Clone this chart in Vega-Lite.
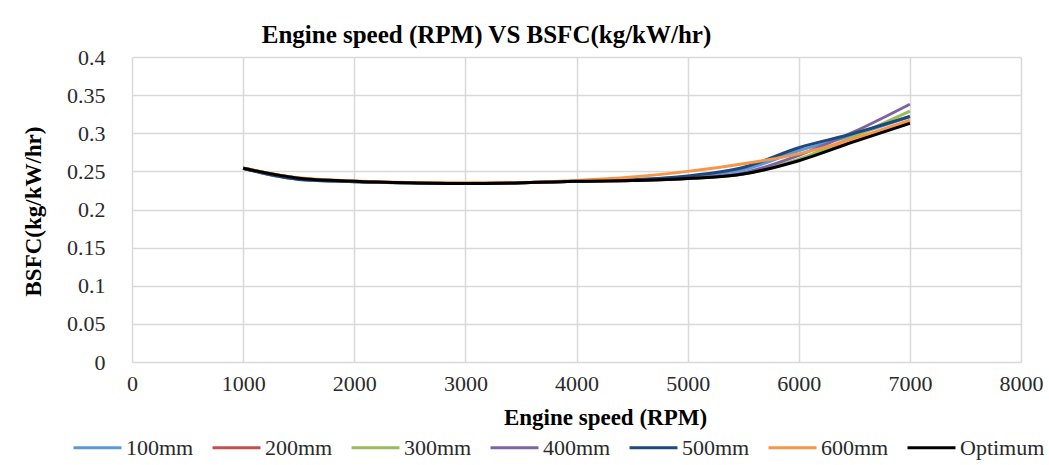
{
  "$schema": "https://vega.github.io/schema/vega-lite/v6.json",
  "autosize": "none",
  "width": 889,
  "height": 305,
  "padding": {"left": 132, "top": 57, "right": 28, "bottom": 103},
  "background": "white",
  "title": {
    "text": "Engine speed  (RPM) VS BSFC(kg/kW/hr)",
    "font": "Liberation Serif",
    "fontSize": 25,
    "fontWeight": "bold",
    "color": "#000000",
    "anchor": "middle",
    "dx": -90,
    "offset": -2
  },
  "data": {
    "values": [
      {"series": "100mm", "rpm": 1000, "bsfc": 0.254},
      {"series": "100mm", "rpm": 1500, "bsfc": 0.2395},
      {"series": "100mm", "rpm": 2000, "bsfc": 0.2365},
      {"series": "100mm", "rpm": 2500, "bsfc": 0.235},
      {"series": "100mm", "rpm": 3000, "bsfc": 0.234},
      {"series": "100mm", "rpm": 3500, "bsfc": 0.235},
      {"series": "100mm", "rpm": 4000, "bsfc": 0.237},
      {"series": "100mm", "rpm": 4500, "bsfc": 0.239},
      {"series": "100mm", "rpm": 5000, "bsfc": 0.243},
      {"series": "100mm", "rpm": 5500, "bsfc": 0.252},
      {"series": "100mm", "rpm": 6000, "bsfc": 0.277},
      {"series": "100mm", "rpm": 6500, "bsfc": 0.298},
      {"series": "100mm", "rpm": 7000, "bsfc": 0.322},
      {"series": "200mm", "rpm": 1000, "bsfc": 0.254},
      {"series": "200mm", "rpm": 1500, "bsfc": 0.241},
      {"series": "200mm", "rpm": 2000, "bsfc": 0.237},
      {"series": "200mm", "rpm": 2500, "bsfc": 0.235},
      {"series": "200mm", "rpm": 3000, "bsfc": 0.234},
      {"series": "200mm", "rpm": 3500, "bsfc": 0.235},
      {"series": "200mm", "rpm": 4000, "bsfc": 0.237},
      {"series": "200mm", "rpm": 4500, "bsfc": 0.238},
      {"series": "200mm", "rpm": 5000, "bsfc": 0.241},
      {"series": "200mm", "rpm": 5500, "bsfc": 0.247},
      {"series": "200mm", "rpm": 6000, "bsfc": 0.265},
      {"series": "200mm", "rpm": 6500, "bsfc": 0.29},
      {"series": "200mm", "rpm": 7000, "bsfc": 0.315},
      {"series": "300mm", "rpm": 1000, "bsfc": 0.254},
      {"series": "300mm", "rpm": 1500, "bsfc": 0.241},
      {"series": "300mm", "rpm": 2000, "bsfc": 0.237},
      {"series": "300mm", "rpm": 2500, "bsfc": 0.235},
      {"series": "300mm", "rpm": 3000, "bsfc": 0.234},
      {"series": "300mm", "rpm": 3500, "bsfc": 0.235},
      {"series": "300mm", "rpm": 4000, "bsfc": 0.237},
      {"series": "300mm", "rpm": 4500, "bsfc": 0.238},
      {"series": "300mm", "rpm": 5000, "bsfc": 0.2405},
      {"series": "300mm", "rpm": 5500, "bsfc": 0.2465},
      {"series": "300mm", "rpm": 6000, "bsfc": 0.266},
      {"series": "300mm", "rpm": 6500, "bsfc": 0.296},
      {"series": "300mm", "rpm": 7000, "bsfc": 0.329},
      {"series": "400mm", "rpm": 1000, "bsfc": 0.254},
      {"series": "400mm", "rpm": 1500, "bsfc": 0.241},
      {"series": "400mm", "rpm": 2000, "bsfc": 0.237},
      {"series": "400mm", "rpm": 2500, "bsfc": 0.235},
      {"series": "400mm", "rpm": 3000, "bsfc": 0.234},
      {"series": "400mm", "rpm": 3500, "bsfc": 0.235},
      {"series": "400mm", "rpm": 4000, "bsfc": 0.237},
      {"series": "400mm", "rpm": 4500, "bsfc": 0.238},
      {"series": "400mm", "rpm": 5000, "bsfc": 0.2405},
      {"series": "400mm", "rpm": 5500, "bsfc": 0.248},
      {"series": "400mm", "rpm": 6000, "bsfc": 0.271},
      {"series": "400mm", "rpm": 6500, "bsfc": 0.302},
      {"series": "400mm", "rpm": 7000, "bsfc": 0.338},
      {"series": "500mm", "rpm": 1000, "bsfc": 0.254},
      {"series": "500mm", "rpm": 1500, "bsfc": 0.2395},
      {"series": "500mm", "rpm": 2000, "bsfc": 0.2365},
      {"series": "500mm", "rpm": 2500, "bsfc": 0.235},
      {"series": "500mm", "rpm": 3000, "bsfc": 0.234},
      {"series": "500mm", "rpm": 3500, "bsfc": 0.235},
      {"series": "500mm", "rpm": 4000, "bsfc": 0.237},
      {"series": "500mm", "rpm": 4500, "bsfc": 0.239},
      {"series": "500mm", "rpm": 5000, "bsfc": 0.244},
      {"series": "500mm", "rpm": 5500, "bsfc": 0.255},
      {"series": "500mm", "rpm": 6000, "bsfc": 0.281},
      {"series": "500mm", "rpm": 6500, "bsfc": 0.3},
      {"series": "500mm", "rpm": 7000, "bsfc": 0.322},
      {"series": "600mm", "rpm": 1000, "bsfc": 0.2545},
      {"series": "600mm", "rpm": 1500, "bsfc": 0.2415},
      {"series": "600mm", "rpm": 2000, "bsfc": 0.2375},
      {"series": "600mm", "rpm": 2500, "bsfc": 0.2355},
      {"series": "600mm", "rpm": 3000, "bsfc": 0.235},
      {"series": "600mm", "rpm": 3500, "bsfc": 0.2355},
      {"series": "600mm", "rpm": 4000, "bsfc": 0.238},
      {"series": "600mm", "rpm": 4500, "bsfc": 0.2425},
      {"series": "600mm", "rpm": 5000, "bsfc": 0.25},
      {"series": "600mm", "rpm": 5500, "bsfc": 0.26},
      {"series": "600mm", "rpm": 6000, "bsfc": 0.273},
      {"series": "600mm", "rpm": 6500, "bsfc": 0.293},
      {"series": "600mm", "rpm": 7000, "bsfc": 0.317},
      {"series": "Optimum", "rpm": 1000, "bsfc": 0.254},
      {"series": "Optimum", "rpm": 1500, "bsfc": 0.241},
      {"series": "Optimum", "rpm": 2000, "bsfc": 0.237},
      {"series": "Optimum", "rpm": 2500, "bsfc": 0.235},
      {"series": "Optimum", "rpm": 3000, "bsfc": 0.234},
      {"series": "Optimum", "rpm": 3500, "bsfc": 0.235},
      {"series": "Optimum", "rpm": 4000, "bsfc": 0.237},
      {"series": "Optimum", "rpm": 4500, "bsfc": 0.238},
      {"series": "Optimum", "rpm": 5000, "bsfc": 0.2405},
      {"series": "Optimum", "rpm": 5500, "bsfc": 0.2465},
      {"series": "Optimum", "rpm": 6000, "bsfc": 0.264},
      {"series": "Optimum", "rpm": 6500, "bsfc": 0.289},
      {"series": "Optimum", "rpm": 7000, "bsfc": 0.313}
    ]
  },
  "mark": {"type": "line", "interpolate": "monotone", "strokeWidth": 3},
  "encoding": {
    "x": {
      "field": "rpm",
      "type": "quantitative",
      "scale": {"domain": [0, 8000], "nice": false, "zero": false},
      "axis": {
        "title": "Engine speed (RPM)",
        "values": [0, 1000, 2000, 3000, 4000, 5000, 6000, 7000, 8000],
        "format": "d",
        "domain": false,
        "ticks": false,
        "grid": true,
        "gridColor": "#d9d9d9",
        "gridWidth": 1.5,
        "labelFont": "Liberation Serif",
        "labelFontSize": 22,
        "labelColor": "#2a2a2a",
        "labelPadding": 11,
        "labelFlush": false,
        "titleFont": "Liberation Serif",
        "titleFontSize": 23,
        "titleFontWeight": "bold",
        "titleColor": "#000000",
        "titleX": 473,
        "titleY": 55,
        "titleAlign": "center",
        "titleBaseline": "middle"
      }
    },
    "y": {
      "field": "bsfc",
      "type": "quantitative",
      "scale": {"domain": [0, 0.4], "nice": false},
      "axis": {
        "title": "BSFC(kg/kW/hr)",
        "values": [0, 0.05, 0.1, 0.15, 0.2, 0.25, 0.3, 0.35, 0.4],
        "labelExpr": "datum.value == 0 ? '0' : format(datum.value, '.2~f')",
        "domain": false,
        "ticks": false,
        "grid": true,
        "gridColor": "#d9d9d9",
        "gridWidth": 1.5,
        "labelFont": "Liberation Serif",
        "labelFontSize": 22,
        "labelColor": "#2a2a2a",
        "labelPadding": 27,
        "labelFlush": false,
        "titleFont": "Liberation Serif",
        "titleFontSize": 23,
        "titleFontWeight": "bold",
        "titleColor": "#000000",
        "titleX": -99,
        "titleY": 154,
        "titleAlign": "center",
        "titleBaseline": "middle",
        "titleAngle": -90
      }
    },
    "color": {
      "field": "series",
      "type": "nominal",
      "scale": {
        "domain": ["100mm", "200mm", "300mm", "400mm", "500mm", "600mm", "Optimum"],
        "range": ["#5B9BD5", "#C0504D", "#9BBB59", "#8064A2", "#1F497D", "#F79646", "#000000"]
      },
      "legend": {
        "title": null,
        "orient": "none",
        "direction": "horizontal",
        "columns": 7,
        "legendX": -60,
        "legendY": 365,
        "symbolType": "stroke",
        "symbolSize": 2300,
        "symbolStrokeWidth": 3,
        "labelFont": "Liberation Serif",
        "labelFontSize": 22,
        "labelColor": "#2a2a2a",
        "labelOffset": 3,
        "columnPadding": 12,
        "labelBaseline": "middle"
      }
    }
  },
  "config": {"view": {"stroke": null}}
}
